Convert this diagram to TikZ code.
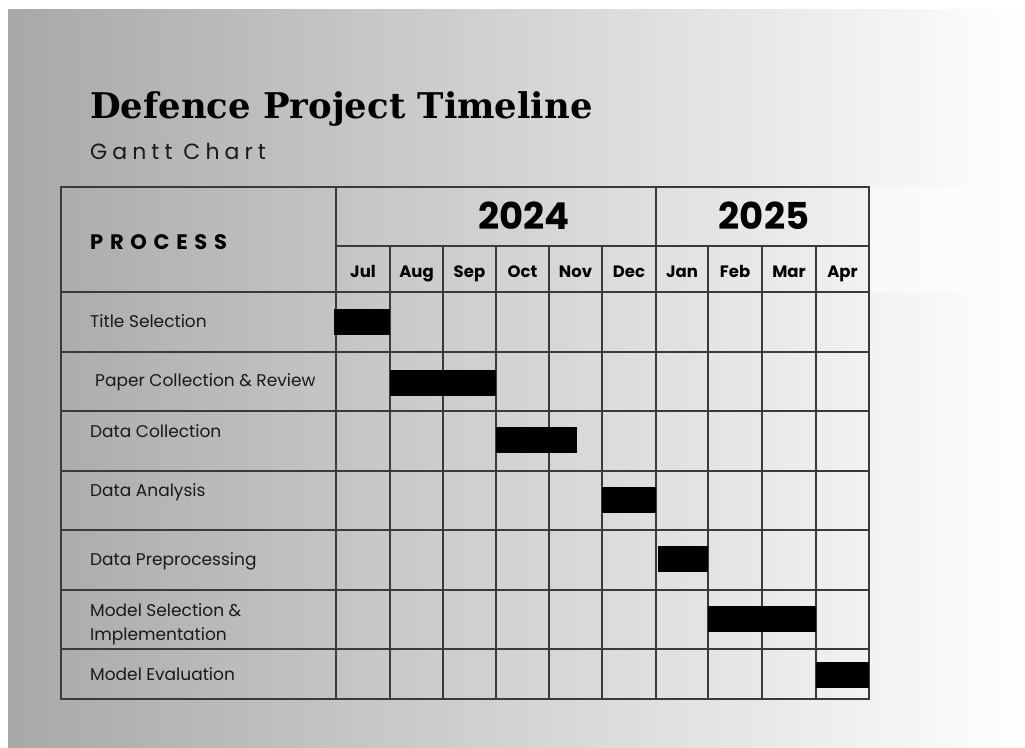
\documentclass[tikz,border=0pt]{standalone}
\usepackage{fontspec}
\setmainfont{Poppins}
\newfontfamily\titlefont{DejaVu Serif}
\newfontfamily\subfont{Poppins}[LetterSpace=23]
\newfontfamily\procfont{Poppins}[LetterSpace=32]
\definecolor{bgleft}{RGB}{168,168,168}
\definecolor{gridc}{RGB}{58,58,58}
\begin{document}
\begin{tikzpicture}[x=1pt,y=-1pt,
  gridline/.style={draw=gridc, line width=1.2pt},
  bar/.style={fill=black, inner sep=0pt, anchor=north west, minimum height=26pt},
  rowlabel/.style={anchor=base west, inner sep=0pt, font=\fontsize{17}{20}\selectfont, text=black!90, align=left},
  month/.style={anchor=base, inner sep=0pt, font=\fontsize{16.5}{19}\selectfont\bfseries},
  year/.style={anchor=base, inner sep=0pt, font=\fontsize{37}{40}\selectfont\bfseries}]
\useasboundingbox (0,0) rectangle (1025,747);
\fill[white] (0,0) rectangle (1025,747);
\shade[left color=bgleft, right color=white] (8,9) rectangle (1025,747);
\fill[white, opacity=0.5] (869,187) rectangle (976,292);

% title
\node[anchor=base west, inner sep=0pt, font=\titlefont\bfseries\fontsize{35.4}{40}\selectfont] (title) at (90,118) {Defence Project Timeline};
\node[anchor=base west, inner sep=0pt, font=\subfont\fontsize{22}{26}\selectfont, text=black!90] (subtitle) at (90,159) {Gantt Chart};

% grid
\draw[gridline] (61,187) rectangle (869,699);
\draw[gridline] (336,187) -- (336,699);
\draw[gridline] (656,187) -- (656,699);
\draw[gridline] (336,246) -- (869,246);
\foreach \x in {390,443,496,549,602,708,762,816}
  \draw[gridline] (\x,246) -- (\x,699);
\foreach \y in {292,352,411,471,530,590,649}
  \draw[gridline] (61,\y) -- (869,\y);

% header
\node[anchor=base west, inner sep=0pt, font=\procfont\bfseries\fontsize{21}{24}\selectfont] (process) at (90,249) {PROCESS};
\node[year] (y2024) at (524,229) {2024};
\node[year] (y2025) at (764,229) {2025};
\node[month] (m1) at (363,277) {Jul};
\node[month] (m2) at (416.5,277) {Aug};
\node[month] (m3) at (469.5,277) {Sep};
\node[month] (m4) at (522.5,277) {Oct};
\node[month] (m5) at (575.5,277) {Nov};
\node[month] (m6) at (629,277) {Dec};
\node[month] (m7) at (682,277) {Jan};
\node[month] (m8) at (735,277) {Feb};
\node[month] (m9) at (789,277) {Mar};
\node[month] (m10) at (842.5,277) {Apr};

% row labels
\node[rowlabel] (r1) at (90,327) {Title Selection};
\node[rowlabel] (r2) at (95,386) {Paper Collection \& Review};
\node[rowlabel] (r3) at (90,437) {Data Collection};
\node[rowlabel] (r4) at (90,496) {Data Analysis};
\node[rowlabel] (r5) at (90,565) {Data Preprocessing};
\node[rowlabel] (r6a) at (90,616) {Model Selection \&};
\node[rowlabel] (r6b) at (90,640) {Implementation};
\node[rowlabel] (r7) at (90,680) {Model Evaluation};

% bars
\node[bar, minimum width=56pt] (b1) at (334,309) {};
\node[bar, minimum width=106pt] (b2) at (390,370) {};
\node[bar, minimum width=81pt] (b3) at (496,427) {};
\node[bar, minimum width=54pt] (b4) at (602,487) {};
\node[bar, minimum width=50pt] (b5) at (658,546) {};
\node[bar, minimum width=108pt] (b6) at (708,606) {};
\node[bar, minimum width=53pt] (b7) at (816,662) {};
\end{tikzpicture}
\end{document}
